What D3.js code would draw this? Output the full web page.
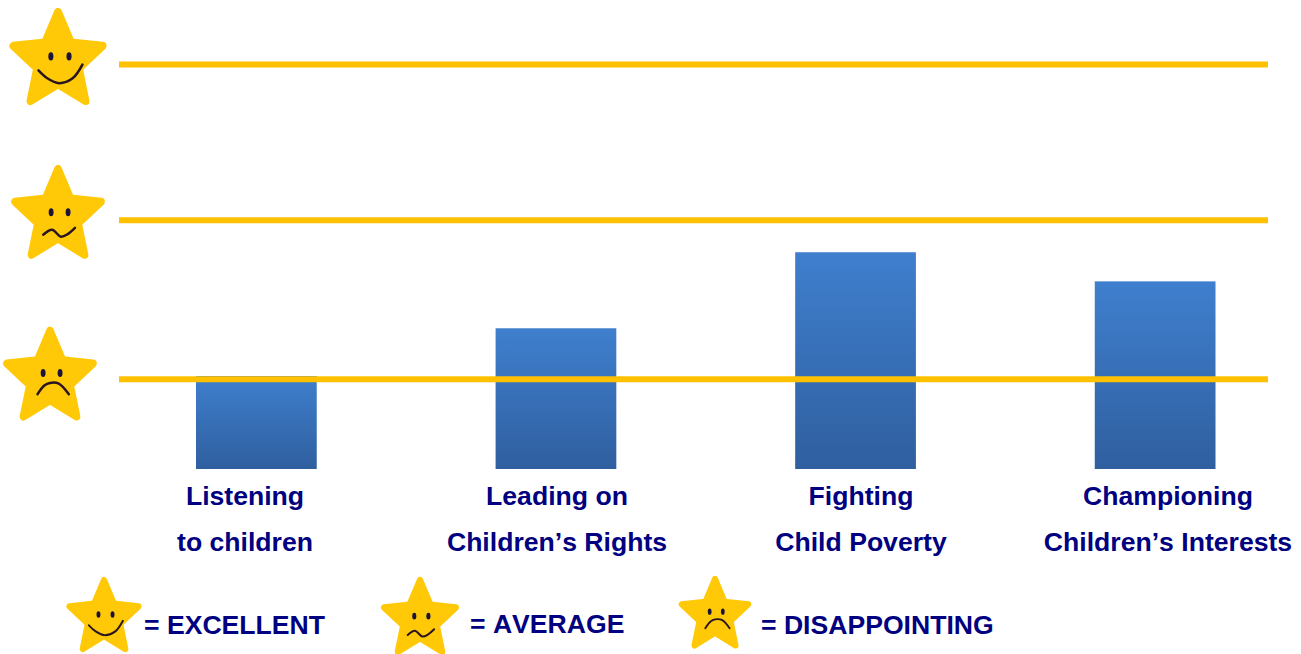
<!DOCTYPE html>
<html>
<head>
<meta charset="utf-8">
<script src="https://cdnjs.cloudflare.com/ajax/libs/d3/7.8.5/d3.min.js"></script>
<style>
html, body { margin: 0; padding: 0; background: #fff; }
text { font-family: "Liberation Sans", Arial, sans-serif; font-weight: bold; fill: #000080; font-kerning: none; }
</style>
</head>
<body>
<svg id="chart" width="1301" height="654"></svg>
<script>
// 0-100 scale where the top gold line is 100
const categories = ['Listening to children', "Leading on Children's Rights", 'Fighting Child Poverty', "Championing Children's Interests"];
const labelLines = [['Listening', 'to children'], ['Leading on', 'Children’s Rights'], ['Fighting', 'Child Poverty'], ['Championing', 'Children’s Interests']];
const scores = [23, 34.8, 53.6, 46.4];
const ratingNames = ['EXCELLENT', 'AVERAGE', 'DISAPPOINTING'];
const ratingLevels = [100, 61.5, 22.2];

// faces, in px for a star of radius 52
const eyes = [
	[[-7.3, -3.3], [11.3, -3.3]],
	[[-7.3, -3], [10.7, -3]],
	[[-7.3, -4], [10.7, -4]]
];
const mouths = [
	[[-20, 11], [-11, 19], [1, 24], [15, 19], [25, 5]],
	[[-15.7, 21], [-6.3, 15.7], [3, 23], [10.3, 20.3], [18, 13.7]],
	[[-13.3, 18.6], [-6, 9.3], [0, 6.6], [9.3, 7.3], [20, 18.6]]
];

const svg = d3.select('#chart');

const x = d3.scaleBand().domain(categories).range([196, 1215.5]).paddingInner(0.597).paddingOuter(0);
const y = d3.scaleLinear().domain([0, 100]).range([469, 64.6]);

const grad = svg.append('defs').append('linearGradient')
	.attr('id', 'barFill').attr('x1', 0).attr('y1', 0).attr('x2', 0).attr('y2', 1);
grad.append('stop').attr('offset', '0%').attr('stop-color', '#3f7fce');
grad.append('stop').attr('offset', '100%').attr('stop-color', '#2f5f9f');

svg.selectAll('.bar')
	.data(scores).enter()
	.append('rect')
	.attr('class', 'bar')
	.attr('x', (d, i) => x(categories[i]))
	.attr('y', d => y(d))
	.attr('width', x.bandwidth())
	.attr('height', d => y(0) - y(d))
	.attr('fill', 'url(#barFill)');

svg.selectAll('.level')
	.data(ratingLevels).enter()
	.append('line')
	.attr('class', 'level')
	.attr('x1', 119).attr('x2', 1268)
	.attr('y1', d => y(d)).attr('y2', d => y(d))
	.attr('stroke', '#ffc000')
	.attr('stroke-width', 6);

// labels are not centred on the bars in the original
const labelCentres = [245, 557, 861, 1168];
const labelRows = [504.5, 550.5];
labelLines.forEach((lines, i) => {
	lines.forEach((line, j) => {
		svg.append('text')
			.attr('x', labelCentres[i])
			.attr('y', labelRows[j])
			.attr('text-anchor', 'middle')
			.attr('font-size', 26.6)
			.text(line);
	});
});

const smooth = d3.line().curve(d3.curveCatmullRom);

function drawStar(cx, cy, r, rating) {
	const k = r / 52;
	const g = svg.append('g').attr('transform', `translate(${cx},${cy}) scale(${k})`);
	const pts = d3.range(10).map(i => {
		const rad = i % 2 ? 22.5 : 48;
		return [rad * Math.sin(i * Math.PI / 5), -rad * Math.cos(i * Math.PI / 5)];
	});
	g.append('path')
		.attr('d', d3.line()(pts) + 'Z')
		.attr('transform', 'translate(0,1.5) scale(1,1.05)')
		.attr('fill', '#ffc908')
		.attr('stroke', '#ffc908')
		.attr('stroke-width', 8)
		.attr('stroke-linejoin', 'round');
	g.selectAll('ellipse')
		.data(eyes[rating]).enter()
		.append('ellipse')
		.attr('cx', d => d[0]).attr('cy', d => d[1])
		.attr('rx', 2.6).attr('ry', 4.2)
		.attr('fill', '#1c1438');
	g.append('path')
		.attr('d', smooth(mouths[rating]))
		.attr('fill', 'none')
		.attr('stroke', '#2a1620')
		.attr('stroke-width', 2.6)
		.attr('stroke-linecap', 'round');
}

drawStar(58, 59.7, 50.8, 0);
drawStar(58, 215, 49, 1);
drawStar(50, 376.7, 49, 2);

drawStar(104, 617, 39.3, 0);
drawStar(420, 618.5, 40.8, 1);
drawStar(715, 614.6, 38, 2);

const legendX = [144, 470, 761];
const legendY = [634, 633, 634];
ratingNames.forEach((name, i) => {
	svg.append('text')
		.attr('x', legendX[i])
		.attr('y', legendY[i])
		.attr('font-size', 26.6)
		.text('= ' + name);
});
</script>
</body>
</html>
